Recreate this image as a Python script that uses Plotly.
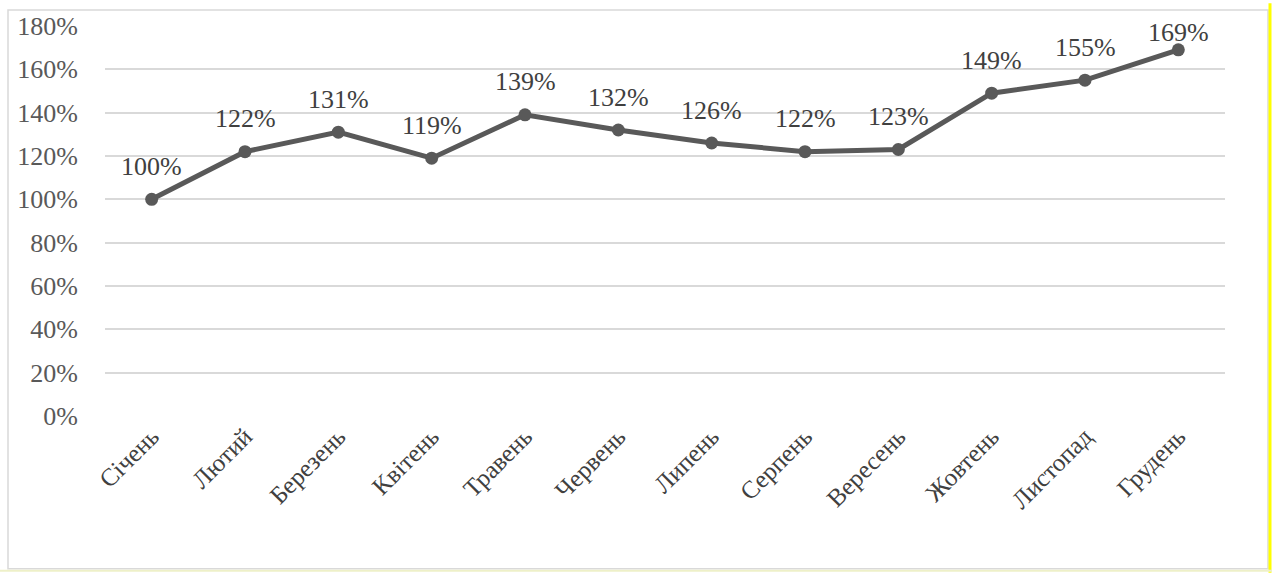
import plotly.graph_objects as go

months = ["Січень", "Лютий", "Березень", "Квітень", "Травень", "Червень",
          "Липень", "Серпень", "Вересень", "Жовтень", "Листопад", "Грудень"]
values = [100, 122, 131, 119, 139, 132, 126, 122, 123, 149, 155, 169]
y_ticks = [0, 20, 40, 60, 80, 100, 120, 140, 160, 180]
y_tick_labels = [f"{v}%" for v in y_ticks]

GREY = "#595959"
FONT = "Liberation Serif"

fig = go.Figure()
fig.add_trace(go.Scatter(
    x=months, y=values, mode="lines+markers",
    line=dict(color=GREY, width=5),
    marker=dict(color=GREY, size=13),
    hoverinfo="skip", showlegend=False,
))

for i, (m, v) in enumerate(zip(months, values)):
    fig.add_annotation(x=m, y=v, text=f"{v}%", showarrow=False,
                       yanchor="middle", yshift=17 if i == len(values) - 1 else 33,
                       font=dict(family=FONT, size=26, color="#404040"))

W, H = 1272, 574
L, R, T, B = 105, 47, 23, 158
pw, ph = W - L - R, H - T - B


def px(xp):
    return (xp - L) / pw


def py(yp):
    return (H - B - yp) / ph


fig.update_layout(
    width=W, height=H,
    margin=dict(l=L, r=R, t=T, b=B),
    paper_bgcolor="white", plot_bgcolor="white",
    font=dict(family=FONT, color=GREY),
    xaxis=dict(tickangle=-45, tickfont=dict(family=FONT, size=25, color="#404040"),
               showgrid=False, showline=False, ticks="",
               range=[-0.5, 11.5]),
    yaxis=dict(range=[0, 180], tickvals=y_ticks, ticktext=y_tick_labels,
               tickfont=dict(family=FONT, size=26, color=GREY), gridcolor="#d9d9d9",
               gridwidth=1.5, zeroline=False, showline=False,
               ticklabelstandoff=26),
    shapes=[
        dict(type="rect", xref="paper", yref="paper",
             x0=px(8), x1=px(1268), y0=py(570), y1=py(7),
             line=dict(color="#d9d9d9", width=1.5)),
        dict(type="line", xref="paper", yref="paper",
             x0=px(1270), x1=px(1270), y0=py(574), y1=py(0),
             line=dict(color="#ffff00", width=3)),
        dict(type="line", xref="paper", yref="paper",
             x0=px(0), x1=px(1272), y0=py(572), y1=py(572),
             line=dict(color="#eef0c8", width=2)),
    ],
)

fig.write_html("out.html")
